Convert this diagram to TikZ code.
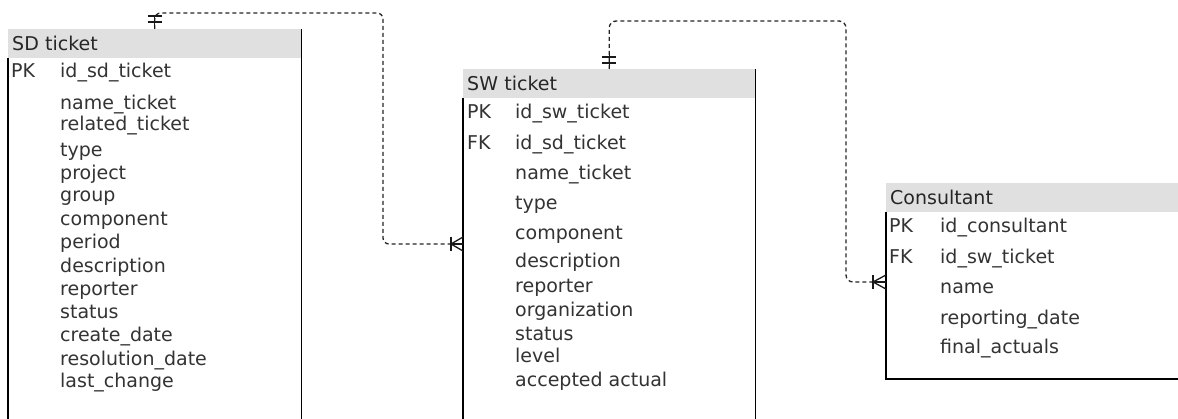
\documentclass[tikz,border=0pt]{standalone}
\usepackage{fontspec}
\setmainfont{DejaVu Sans}
\begin{document}
\begin{tikzpicture}[x=1pt,y=-1pt,
  txt/.style={anchor=base west,inner sep=0pt,text=black!80,font=\fontsize{19}{22}\selectfont},
  hdr/.style={anchor=north west,fill=black!12,draw=none,minimum height=29pt,inner xsep=4pt,inner ysep=0pt,align=left,text=black!85,font=\fontsize{19}{22}\selectfont},
  border/.style={draw=black,line width=1.4pt},
  conn/.style={draw=black!85,line width=1.3pt,dash pattern=on 4pt off 3pt},
  ermark/.style={draw=black!90,line width=1.3pt}]
\useasboundingbox (0,0) rectangle (1178,419);
\fill[white] (0,0) rectangle (1178,419);

% SD ticket
\node[hdr,text width=285pt] (sd) at (8,29) {SD ticket};
\draw[border] (sd.north east) -- (sd.north east |- 0,419);
\draw[border] (sd.south west) -- (sd.south west |- 0,419);
\node[txt] (sdpk) at (11,78) {PK};
\node[txt] (sd1) at (60,78) {id\_sd\_ticket};
\node[txt] (sd2) at (60,110) {name\_ticket};
\node[txt] (sd3) at (60,131) {related\_ticket};
\node[txt] (sd4) at (60,157) {type};
\node[txt] (sd5) at (60,180) {project};
\node[txt] (sd6) at (60,202) {group};
\node[txt] (sd7) at (60,226) {component};
\node[txt] (sd8) at (60,249) {period};
\node[txt] (sd9) at (60,273) {description};
\node[txt] (sd10) at (60,296) {reporter};
\node[txt] (sd11) at (60,319) {status};
\node[txt] (sd12) at (60,342) {create\_date};
\node[txt] (sd13) at (60,366) {resolution\_date};
\node[txt] (sd14) at (60,388) {last\_change};

% SW ticket
\node[hdr,text width=284pt] (sw) at (463,69) {SW ticket};
\draw[border] (sw.north east) -- (sw.north east |- 0,419);
\draw[border] (sw.south west) -- (sw.south west |- 0,419);
\node[txt] (swpk) at (467,119) {PK};
\node[txt] (sw1) at (515,119) {id\_sw\_ticket};
\node[txt] (swfk) at (467,150) {FK};
\node[txt] (sw2) at (515,150) {id\_sd\_ticket};
\node[txt] (sw3) at (515,180) {name\_ticket};
\node[txt] (sw4) at (515,210) {type};
\node[txt] (sw5) at (515,240) {component};
\node[txt] (sw6) at (515,268) {description};
\node[txt] (sw7) at (515,293) {reporter};
\node[txt] (sw8) at (515,317) {organization};
\node[txt] (sw9) at (515,341) {status};
\node[txt] (sw10) at (515,363) {level};
\node[txt] (sw11) at (515,387) {accepted actual};

% Consultant
\node[hdr,text width=284pt] (cons) at (886,183) {Consultant};
\draw[border] (cons.south west) -- (886,379) -- (1178,379);
\node[txt] (cpk) at (889,233) {PK};
\node[txt] (c1) at (940,233) {id\_consultant};
\node[txt] (cfk) at (889,264) {FK};
\node[txt] (c2) at (940,264) {id\_sw\_ticket};
\node[txt] (c3) at (940,294) {name};
\node[txt] (c4) at (940,325) {reporting\_date};
\node[txt] (c5) at (940,354) {final\_actuals};

% connectors
\coordinate (swin) at (463,244);
\coordinate (consin) at (886,282);
\draw[conn,rounded corners=6pt] (sd.north) |- (383,13) |- (swin);
\draw[conn,rounded corners=7pt] (sw.north) |- (846,21) |- (consin);

% markers: one and only one
\draw[ermark] (sd.north) -- ++(0,-14);
\draw[ermark] ([shift={(-7,-13)}]sd.north) -- ++(14,0);
\draw[ermark] ([shift={(-7,-7)}]sd.north) -- ++(14,0);
\draw[ermark] (sw.north) -- ++(0,-16);
\draw[ermark] ([shift={(-7,-12)}]sw.north) -- ++(14,0);
\draw[ermark] ([shift={(-7,-6)}]sw.north) -- ++(14,0);

% markers: one or many
\draw[ermark] ([shift={(-12,-7)}]swin) -- ++(0,14);
\draw[ermark] ([shift={(-12,0)}]swin) -- (swin);
\draw[ermark] ([shift={(0,-7)}]swin) -- ([shift={(-12,0)}]swin) -- ([shift={(0,7)}]swin);
\draw[ermark] ([shift={(-13,-7)}]consin) -- ++(0,14);
\draw[ermark] ([shift={(-13,0)}]consin) -- (consin);
\draw[ermark] ([shift={(0,-7)}]consin) -- ([shift={(-13,0)}]consin) -- ([shift={(0,7)}]consin);
\end{tikzpicture}
\end{document}
